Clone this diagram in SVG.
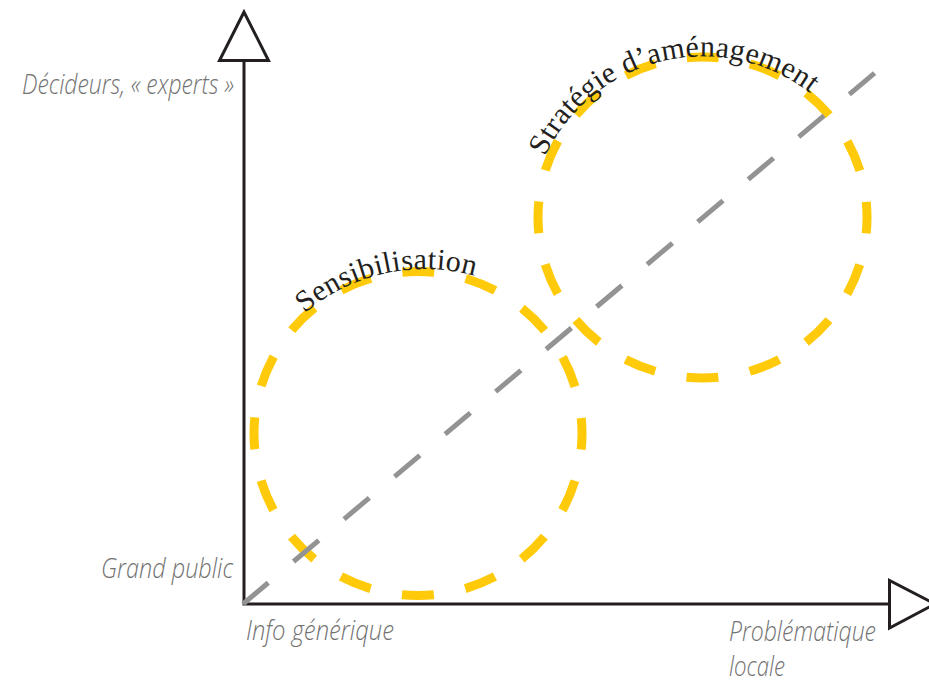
<svg xmlns="http://www.w3.org/2000/svg" width="929" height="683" viewBox="0 0 929 683">
  <style>
    .ring { fill: none; stroke: #FFCA0A; stroke-width: 9; }
    .axis { fill: none; stroke: #231F20; stroke-width: 3; stroke-linejoin: miter; }
    .head { fill: #FFFFFF; stroke: #231F20; stroke-width: 3; stroke-linejoin: miter; }
    .diag { fill: none; stroke: #939393; stroke-width: 5; stroke-dasharray: 33 33; }
    .lbl { font-family: "Open Sans", "Liberation Sans", sans-serif; font-style: italic; font-weight: 300; font-size: 28px; fill: #727272; }
    .arc { font-family: "Liberation Serif", "DejaVu Serif", serif; font-size: 30px; fill: #231F20; letter-spacing: 0.3px; }
  </style>
  <defs>
    <path id="arcSens" d="M 304.6 313.4 A 185 185 0 0 1 475.3 276.1" />
    <path id="arcStrat" d="M 545 156.4 A 175 175 0 0 1 809.5 92.6" />
  </defs>
  <rect width="929" height="683" fill="#FFFFFF" />

  <g id="sensibilisation">
    <ellipse class="ring" cx="418" cy="433.5" rx="164" ry="162" stroke-dasharray="32 32.01" stroke-dashoffset="16" />
  </g>
  <g id="strategie">
    <ellipse class="ring" cx="702.5" cy="217.5" rx="164.5" ry="160.5" stroke-dasharray="31.9 31.91" stroke-dashoffset="15.95" />
  </g>

  <g id="connectors">
    <path id="axes" class="axis" d="M 244 60.5 V 604 H 889.5" />
    <polygon id="arrow-y" class="head" points="244,12 219.5,60.5 268.5,60.5" />
    <polygon id="arrow-x" class="head" points="889.5,580.5 889.5,628 935,604" />
    <path id="diagonal" class="diag" d="M 243 604 L 876 72" />
  </g>

  <g id="label-sensibilisation">
    <text class="arc"><textPath href="#arcSens">Sensibilisation</textPath></text>
  </g>
  <g id="label-strategie">
    <text class="arc"><textPath href="#arcStrat">Stratégie d’aménagement</textPath></text>
  </g>

  <g id="axis-labels">
    <text class="lbl" x="22" y="94" textLength="212" lengthAdjust="spacingAndGlyphs">Décideurs, « experts »</text>
    <text class="lbl" x="101" y="577.5" textLength="132" lengthAdjust="spacingAndGlyphs">Grand public</text>
    <text class="lbl" x="246" y="640" textLength="148" lengthAdjust="spacingAndGlyphs">Info générique</text>
    <text class="lbl" x="729" y="641" textLength="147" lengthAdjust="spacingAndGlyphs">Problématique</text>
    <text class="lbl" x="729" y="676" textLength="56" lengthAdjust="spacingAndGlyphs">locale</text>
  </g>
</svg>
